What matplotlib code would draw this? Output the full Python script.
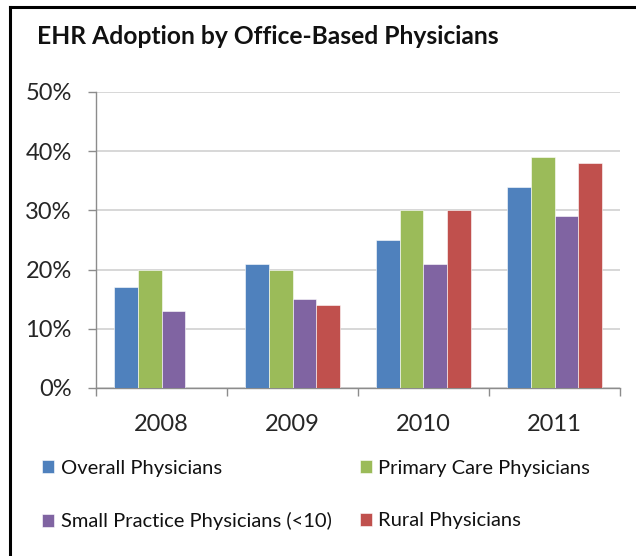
import matplotlib
matplotlib.use("Agg")
import matplotlib.pyplot as plt
import numpy as np
from matplotlib.lines import Line2D

years = ["2008", "2009", "2010", "2011"]
series_names = ["Overall Physicians", "Primary Care Physicians",
                "Small Practice Physicians (<10)", "Rural Physicians"]
overall = [17, 21, 25, 34]
primary = [20, 20, 30, 39]
small = [13, 15, 21, 29]
rural = [np.nan, 14, 30, 38]
yticks = [0, 10, 20, 30, 40, 50]
colors = ["#4F81BD", "#9BBB59", "#8064A2", "#C0504D"]

plt.rcParams['font.family'] = ['Lato', 'DejaVu Sans']

W, H = 636, 556
fig = plt.figure(figsize=(W / 100, H / 100), dpi=100)
ax = fig.add_axes([96 / W, 1 - 388 / H, (620 - 96) / W, (388 - 92) / H])

data = [overall, primary, small, rural]
x = np.arange(len(years))
bw = 0.18
handles = []
for i, (vals, c, name) in enumerate(zip(data, colors, series_names)):
    b = ax.bar(x + (i - 1.5) * bw, vals, width=bw, color=c, label=name,
               edgecolor="white", linewidth=0.4, zorder=3)
    handles.append(b)

ax.set_xlim(-0.5, len(years) - 0.5)
ax.set_ylim(0, 50)
ax.set_yticks(yticks)
ax.set_yticklabels([f"{v}%" for v in yticks])
ax.set_xticks(x)
ax.set_xticklabels(years)
ax.set_xticks(np.arange(len(years) + 1) - 0.5, minor=True)

ax.grid(axis="y", color="#d4d4d4", linewidth=1.3, zorder=0)
for s in ["top", "right"]:
    ax.spines[s].set_visible(False)
for s in ["left", "bottom"]:
    ax.spines[s].set_color("#8c8c8c")
    ax.spines[s].set_linewidth(1.0)

ax.tick_params(axis="y", which="major", length=5.5, color="#8c8c8c", width=1.0,
               labelsize=17, labelcolor="#262626", pad=12)
ax.tick_params(axis="x", which="major", length=0, labelsize=17,
               labelcolor="#262626", pad=19)
ax.tick_params(axis="x", which="minor", length=5.5, color="#8c8c8c", width=1.0)

fig.text(37 / W, 1 - 44 / H, "EHR Adoption by Office-Based Physicians",
         fontsize=17.7, fontweight="bold", color="#111111", va="baseline")

leg_handles = [handles[0], handles[2], handles[1], handles[3]]
leg = fig.legend(leg_handles, [h.get_label() for h in leg_handles],
                 loc="upper left", bbox_to_anchor=(42 / W, 1 - 460 / H),
                 ncol=2, frameon=False, fontsize=14.5, handlelength=0.62,
                 handleheight=0.62, handletextpad=0.3, columnspacing=1.4,
                 labelspacing=1.75, borderaxespad=0, borderpad=0)
for t in leg.get_texts():
    t.set_color("#111111")

fig.add_artist(Line2D([10 / W, 1], [1 - 6.5 / H, 1 - 6.5 / H], color="black",
                      linewidth=2.2, transform=fig.transFigure))
fig.add_artist(Line2D([10 / W, 10 / W], [0, 1 - 6.5 / H], color="black",
                      linewidth=2.2, transform=fig.transFigure))

fig.savefig("out.png", dpi=100)
